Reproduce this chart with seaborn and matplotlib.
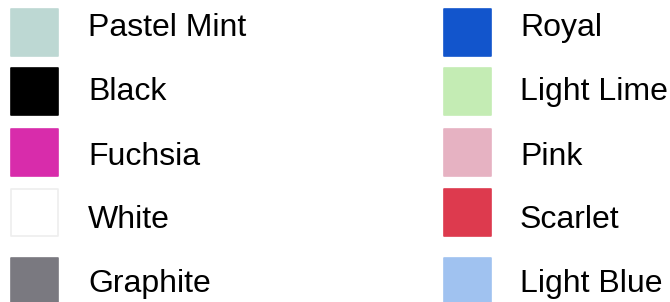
import pandas as pd
import matplotlib.pyplot as plt
import seaborn as sns

# legend entries, two columns of five
names_left = ['Pastel Mint', 'Black', 'Fuchsia', 'White', 'Graphite']
colors_left = ['#bdd8d3', '#000000', '#d82cab', '#ffffff', '#7a7980']
names_right = ['Royal', 'Light Lime', 'Pink', 'Scarlet', 'Light Blue']
colors_right = ['#1255cc', '#c4ecb4', '#e6b2c2', '#dd3a4e', '#a0c2f0']

# layout (pixels)
row_y = [32, 91.5, 152, 212.5, 281]
base_y = [36, 100, 165, 228, 292]
swatch_x = [34, 467]
text_x = [88, 520]

sns.set_theme(style='white')
plt.rcParams['font.family'] = ['Liberation Sans', 'DejaVu Sans']

rows = []
for col, (names, colors) in enumerate([(names_left, colors_left), (names_right, colors_right)]):
    for i, (n, c) in enumerate(zip(names, colors)):
        rows.append({'name': n, 'color': c, 'x': swatch_x[col], 'y': row_y[i],
                     'tx': text_x[col], 'ty': base_y[i]})
df = pd.DataFrame(rows)

fig = plt.figure(figsize=(6.7, 3.02), dpi=100)
ax = fig.add_axes([0, 0, 1, 1])
ax.set_xlim(0, 670)
ax.set_ylim(302, 0)
ax.axis('off')

palette = dict(zip(df['name'], df['color']))
edges = ['#eeeeee' if c == '#ffffff' else c for c in df['color']]
side = 47 * 0.72
sns.scatterplot(data=df, x='x', y='y', hue='name', palette=palette, marker='s',
                s=side ** 2, edgecolor=edges, linewidth=1.2, legend=False, ax=ax)

for _, r in df.iterrows():
    ax.text(r['tx'], r['ty'], r['name'], fontsize=23, va='baseline', ha='left', color='black')

fig.savefig('out.png', dpi=100)
